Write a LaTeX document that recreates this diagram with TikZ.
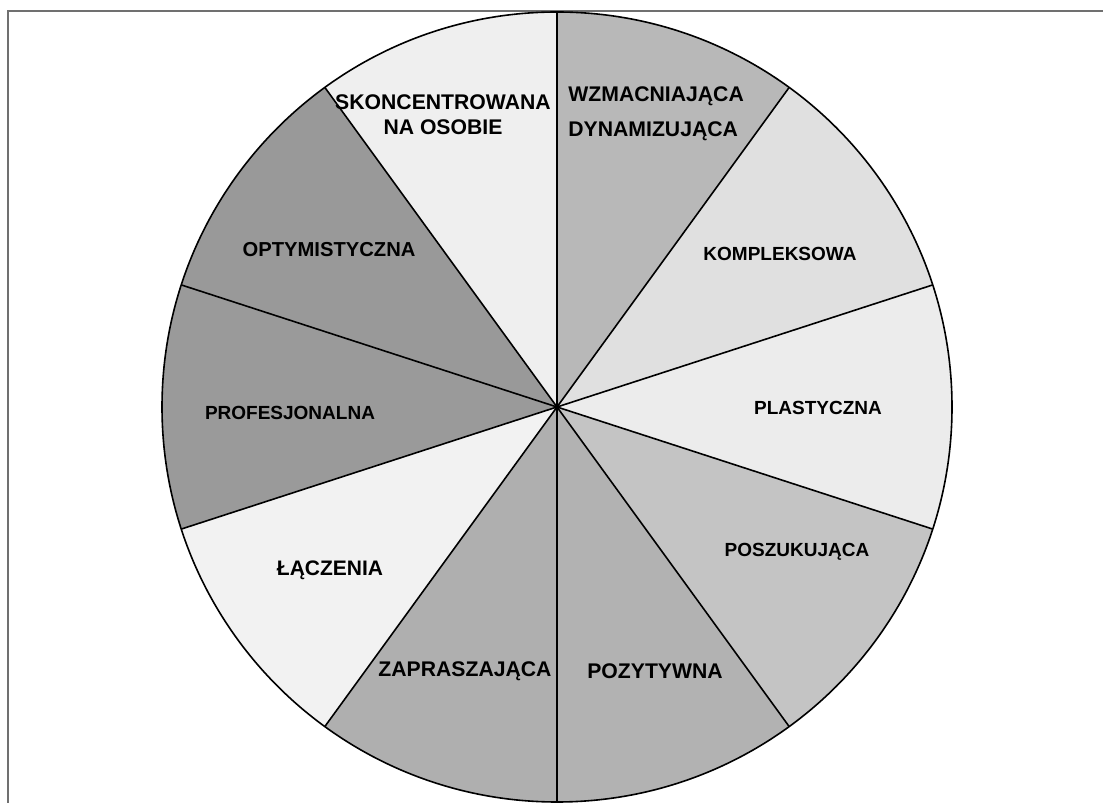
\documentclass[tikz,border=0pt]{standalone}
\usepackage{fontspec}
\setmainfont{Liberation Sans}
\definecolor{cWzm}{HTML}{B8B8B8}
\definecolor{cKom}{HTML}{E0E0E0}
\definecolor{cPla}{HTML}{ECECEC}
\definecolor{cPos}{HTML}{C4C4C4}
\definecolor{cPoz}{HTML}{B2B2B2}
\definecolor{cZap}{HTML}{AFAFAF}
\definecolor{cLac}{HTML}{F2F2F2}
\definecolor{cPro}{HTML}{9A9A9A}
\definecolor{cOpt}{HTML}{999999}
\definecolor{cSko}{HTML}{EFEFEF}
\definecolor{frameGrey}{HTML}{707070}
\begin{document}
\begin{tikzpicture}[x=0.5pt,y=0.5pt,
  lab/.style={font=\fontsize{9.5}{12.5}\selectfont\bfseries, align=center, inner sep=0pt},
  labbig/.style={lab, font=\fontsize{10.6}{12.5}\selectfont\bfseries},
  spoke/.style={line width=0.8pt, black},
  rim/.style={line width=0.8pt, black}]
\useasboundingbox (0,0) rectangle (1103,803);
\draw[line width=1pt, frameGrey] (8,0) -- (8,792) -- (1103,792);
\coordinate (c) at (557,396);
\def\R{197.5pt}
% sectors
\foreach \a/\b/\col in {90/54/cWzm, 54/18/cKom, 18/-18/cPla, -18/-54/cPos, -54/-90/cPoz,
  -90/-126/cZap, -126/-162/cLac, -162/-198/cPro, 162/126/cOpt, 126/90/cSko}{
  \fill[\col] (c) -- ++(\a:\R) arc[start angle=\a, end angle=\b, radius=\R] -- cycle;
}
% boundary points
\foreach \a/\n in {90/p1, 54/p2, 18/p3, -18/p4, -54/p5, -90/p6, -126/p7, -162/p8, 162/p9, 126/p10}{
  \coordinate (\n) at ([shift={(\a:\R)}]c);
}
\foreach \n in {p1,p2,p3,p4,p5,p6,p7,p8,p9,p10}{
  \draw[spoke] (c) -- (\n);
}
\draw[rim] (c) circle[radius=\R];
% labels
\node[labbig] (sko) at (443,688) {SKONCENTROWANA\\NA OSOBIE};
\node[labbig, anchor=west, align=left, font=\fontsize{10.6}{17.5}\selectfont\bfseries] (wzm) at (568,689) {WZMACNIAJĄCA\\DYNAMIZUJĄCA};
\node[lab] (kom) at (780,549) {KOMPLEKSOWA};
\node[lab] (pla) at (818,395) {PLASTYCZNA};
\node[lab] (pos) at (797,251) {POSZUKUJĄCA};
\node[labbig] (poz) at (655,132) {POZYTYWNA};
\node[labbig] (zap) at (465,132) {ZAPRASZAJĄCA};
\node[lab, font=\fontsize{10.5}{12.5}\selectfont\bfseries] (lac) at (330,233) {ŁĄCZENIA};
\node[lab] (pro) at (290,390) {PROFESJONALNA};
\node[lab, font=\fontsize{10.1}{12.5}\selectfont\bfseries] (opt) at (329,553) {OPTYMISTYCZNA};
\end{tikzpicture}
\end{document}
